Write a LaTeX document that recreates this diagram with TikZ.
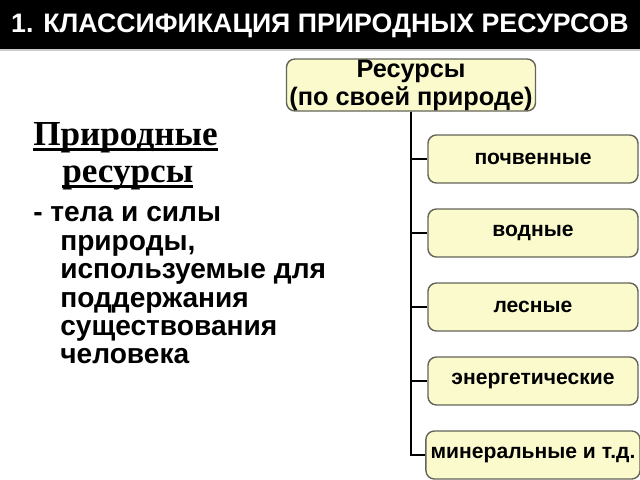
\documentclass[tikz,border=0pt]{standalone}
\usepackage{fontspec}
\setmainfont{Liberation Sans}
\newfontfamily\serifrus{Liberation Serif}
\definecolor{boxfill}{RGB}{250,250,205}
\definecolor{boxline}{RGB}{100,100,90}
\tikzset{
  resbox/.style={draw=boxline, line width=1pt, fill=boxfill, rounded corners=6pt,
    minimum width=5.25cm, minimum height=1.2cm, font=\fontsize{15}{17}\selectfont\bfseries},
  branch/.style={line width=1.4pt},
  deftext/.style={font=\fontsize{20}{22}\selectfont\bfseries, anchor=base west, inner sep=0pt},
  headtext/.style={font=\serifrus\fontsize{25}{28}\selectfont\bfseries, anchor=base west, inner sep=0pt},
  headline/.style={line width=1.6pt}
}
\begin{document}
\begin{tikzpicture}[x=0.025cm,y=-0.025cm]
                    \useasboundingbox (0,0) rectangle (640,480);
                    \fill[black] (0,0) rectangle (640,49);
                    \draw[gray!40, line width=1pt] (0,50) -- (640,50);
                    \node[text=white, font=\fontsize{19}{22}\selectfont\bfseries] (title) at (320,26) {1. КЛАССИФИКАЦИЯ ПРИРОДНЫХ РЕСУРСОВ};

                    \node[resbox, minimum width=6.225cm, minimum height=1.3cm, align=center,
                      font=\fontsize{18}{20}\selectfont\bfseries, inner ysep=0pt, inner xsep=1pt] (res) at (411,85) {Ресурсы\\(по своей природе)};

                    \node[resbox] (soil) at (533,159) {почвенные};
                    \node[resbox] (water) at (533,233) {водные};
                    \node[resbox] (forest) at (533,307) {лесные};
                    \node[resbox] (energy) at (533,381) {энергетические};
                    \node[resbox] (mineral) at (533,455) {минеральные и т.д.};

                    \foreach \kind in {soil,water,forest,energy,mineral}
                      \draw[branch] (res.south) |- (\kind.west);

                    % left definition
                    \node[headtext] (nat1) at (33,145) {Природные};
                    \node[headtext] (nat2) at (62,182) {ресурсы};
                    \draw[headline] ([yshift=-0.11cm]nat1.base west) -- ([yshift=-0.11cm]nat1.base east);
                    \draw[headline] ([yshift=-0.11cm]nat2.base west) -- ([yshift=-0.11cm]nat2.base east);
                    \node[deftext] (def1) at (33,221) {- тела и силы};
                    \node[deftext] (def2) at (60,250) {природы,};
                    \node[deftext] (def3) at (60,278) {используемые для};
                    \node[deftext] (def4) at (60,307) {поддержания};
                    \node[deftext] (def5) at (60,335) {существования};
                    \node[deftext] (def6) at (60,363) {человека};
                \end{tikzpicture}
\end{document}
